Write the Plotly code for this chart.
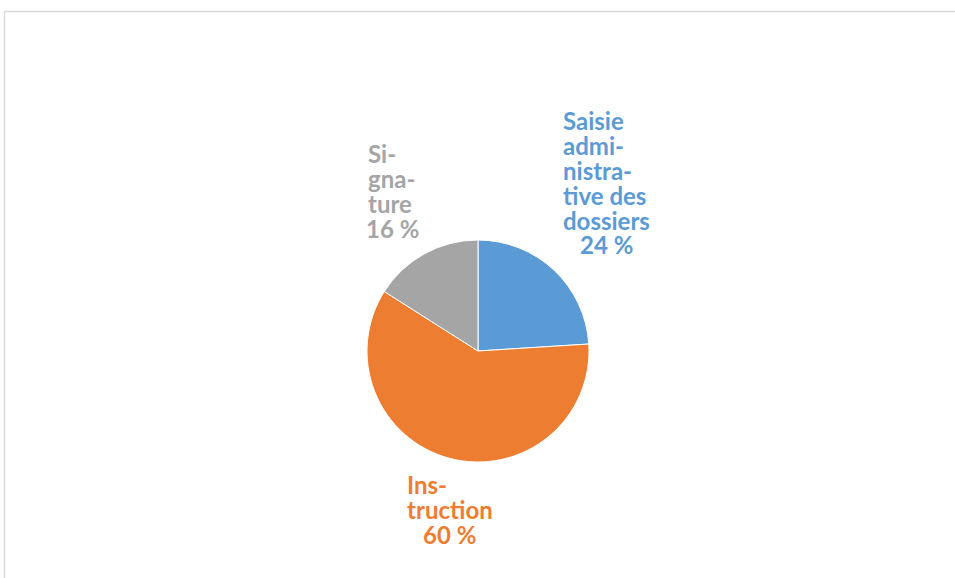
import plotly.graph_objects as go

W, H = 955, 578

# data
categories = ["Saisie administrative des dossiers", "Instruction", "Signature"]
shares = [24, 60, 16]
colors = ["#5B9BD5", "#ED7D31", "#A5A5A5"]
label_lines = [
    ["Saisie", "admi-", "nistra-", "tive des", "dossiers"],
    ["Ins-", "truction"],
    ["Si-", "gna-", "ture"],
]

# label placement in pixels: left edge, middle of first line, centre of the percent line
label_pos = [
    dict(left=561, top=120, pct_x=606),
    dict(left=405, top=484, pct_x=449),
    dict(left=366, top=153, pct_x=392),
]
PITCH = 25
TEXT_SIZE = 24
FONT = "Lato"


def px(x):
    return x / W


def py(y):
    return 1 - y / H


fig = go.Figure()
fig.add_trace(
    go.Pie(
        labels=categories,
        values=shares,
        sort=False,
        direction="clockwise",
        rotation=0,
        marker=dict(colors=colors, line=dict(color="white", width=1)),
        textinfo="none",
        hoverinfo="label+percent",
        showlegend=False,
        domain=dict(x=[px(367), px(589)], y=[py(462), py(240)]),
    )
)

annotations = []
for lines, pos, share, color in zip(label_lines, label_pos, shares, colors):
    # outer size sets the line pitch (1.3 em), inner span sets the glyph size
    body = "<br>".join(
        f'<span style="font-size:{TEXT_SIZE}px">{line}</span>' for line in lines
    )
    mid = pos["top"] + (len(lines) - 1) * PITCH / 2
    annotations.append(
        dict(
            text=body, x=px(pos["left"]), y=py(mid),
            xref="paper", yref="paper", xanchor="left", yanchor="middle",
            align="left", showarrow=False,
            font=dict(family=FONT, size=PITCH / 1.3, color=color, weight="bold"),
        )
    )
    annotations.append(
        dict(
            text=f"{share} %", x=px(pos["pct_x"]),
            y=py(pos["top"] + len(lines) * PITCH),
            xref="paper", yref="paper", xanchor="center", yanchor="middle",
            showarrow=False,
            font=dict(family=FONT, size=TEXT_SIZE, color=color, weight="bold"),
        )
    )

fig.update_layout(
    width=W,
    height=H,
    margin=dict(l=0, r=0, t=0, b=0),
    paper_bgcolor="white",
    plot_bgcolor="white",
    annotations=annotations,
    shapes=[
        dict(
            type="path", xref="paper", yref="paper",
            path=f"M {px(4.5)} -0.1 L {px(4.5)} {py(11.5)} L 1.1 {py(11.5)}",
            line=dict(color="#D9D9D9", width=1.5),
        )
    ],
)

fig.write_html(
    "out.html",
    config={"displayModeBar": False},
    post_script="document.body.style.margin = '0';",
)
